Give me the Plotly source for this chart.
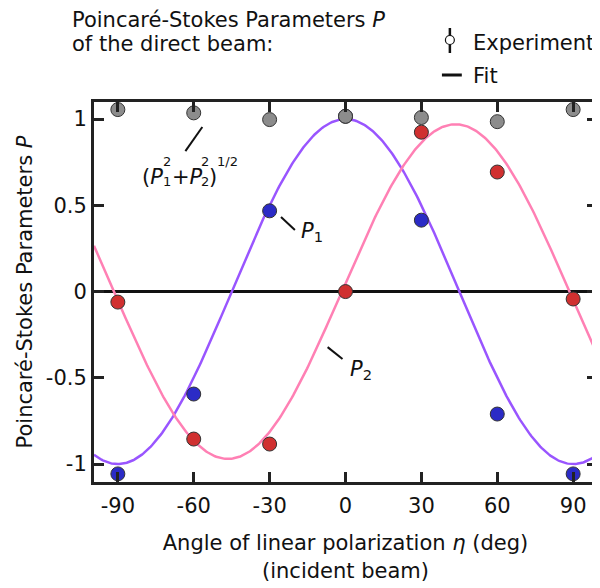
import numpy as np
import plotly.graph_objects as go

# ---- data ----
eta = [-90, -60, -30, 0, 30, 60, 90]
P1 = [-1.057, -0.594, 0.468, 1.016, 0.414, -0.71, -1.057]
P2 = [-0.061, -0.855, -0.884, 0.0, 0.924, 0.693, -0.043]
Pmag = [1.055, 1.036, 0.997, 1.016, 1.009, 0.985, 1.055]

# fit parameters (sinusoidal fits)
fit1_amp, fit1_phase = 1.0, 0.0
fit2_amp, fit2_phase = 0.97, -1.5

xtick_vals = [-90, -60, -30, 0, 30, 60, 90]
xtick_text = ["-90", "-60", "-30", "0", "30", "60", "90"]
ytick_vals = [-1, -0.5, 0, 0.5, 1]
ytick_text = ["-1", "-0.5", "0", "0.5", "1"]

XR = [-99.43, 99.43]
YR = [-1.104, 1.099]

eta_fit = np.linspace(XR[0], XR[1], 400)
fit1 = fit1_amp * np.cos(np.radians(2 * (eta_fit - fit1_phase)))
fit2 = fit2_amp * np.sin(np.radians(2 * (eta_fit - fit2_phase)))

FONT = "DejaVu Sans"
FS = 21
SFS = 13
OUT = "#333333"
TXT = "#111111"

fig = go.Figure()
fig.add_trace(go.Scatter(x=eta_fit, y=fit1, mode="lines",
                         line=dict(color="#9955ff", width=2.5), showlegend=False))
fig.add_trace(go.Scatter(x=eta_fit, y=fit2, mode="lines",
                         line=dict(color="#ff80b4", width=2.5), showlegend=False))
fig.add_trace(go.Scatter(x=eta, y=P1, mode="markers",
                         marker=dict(size=14, color="#2b2bc6", line=dict(color=OUT, width=1)),
                         showlegend=False))
fig.add_trace(go.Scatter(x=eta, y=P2, mode="markers",
                         marker=dict(size=14, color="#d03030", line=dict(color=OUT, width=1)),
                         showlegend=False))
fig.add_trace(go.Scatter(x=eta, y=Pmag, mode="markers",
                         marker=dict(size=14, color="#8c8c8c", line=dict(color=OUT, width=1)),
                         showlegend=False))

axis_common = dict(showgrid=False, showline=True, linecolor="#222222", linewidth=3,
                   mirror="ticks", ticks="inside", ticklen=10, tickwidth=2.5,
                   tickcolor="#222222", tickfont=dict(family=FONT, size=FS, color=TXT))

fig.update_xaxes(range=XR, tickvals=xtick_vals, ticktext=xtick_text, zeroline=False,
                 ticklabelstandoff=3,
                 title=dict(text="Angle of linear polarization <i>η</i> (deg)<br>(incident beam)",
                            font=dict(family=FONT, size=FS, color=TXT), standoff=19),
                 **axis_common)
fig.update_yaxes(range=YR, tickvals=ytick_vals, ticktext=ytick_text,
                 zeroline=True, zerolinecolor="#111111", zerolinewidth=2.5,
                 ticklabelstandoff=0,
                 title=dict(text="Poincaré-Stokes Parameters <i>P</i>",
                            font=dict(family=FONT, size=FS, color=TXT), standoff=8),
                 **axis_common)

W, H = 600, 588
OFF = 8   # page offset of the figure in the window
L, R = 94 - OFF, 8
T, B = 102 - OFF, H - (482 - OFF)
pw, ph = W - L - R, H - T - B


def px(xs):
    return (xs - OFF - L) / pw


def py(ys):
    return (H - B - (ys - OFF)) / ph


shapes = []
# legend: experiment symbol (open circle with bar)
shapes.append(dict(type="circle", xref="paper", yref="paper",
                   x0=px(447.5), x1=px(456.5), y0=py(44.5), y1=py(35.5),
                   line=dict(color=TXT, width=1.2), fillcolor="white"))
shapes.append(dict(type="line", xref="paper", yref="paper", x0=px(452), x1=px(452),
                   y0=py(28), y1=py(35.5), line=dict(color=TXT, width=2.5)))
shapes.append(dict(type="line", xref="paper", yref="paper", x0=px(452), x1=px(452),
                   y0=py(44.5), y1=py(53), line=dict(color=TXT, width=2.5)))
shapes.append(dict(type="line", xref="paper", yref="paper", x0=px(444), x1=px(464),
                   y0=py(75), y1=py(75), line=dict(color=TXT, width=3)))
# leader lines
for (xa, ya, xb, yb) in [(-56.6, 0.954, -63.3, 0.814),
                         (-25.5, 0.432, -20.0, 0.357),
                         (-7.07, -0.322, -1.18, -0.391)]:
    shapes.append(dict(type="line", xref="x", yref="y", x0=xa, y0=ya, x1=xb, y1=yb,
                       line=dict(color=TXT, width=2)))

ann = []
tf = dict(family=FONT, size=FS, color=TXT)
sf = dict(family=FONT, size=SFS, color=TXT)


def txt(xs, ys, text, font=tf, pad=1):
    ann.append(dict(xref="paper", yref="paper", x=px(xs), y=py(ys), xanchor="left",
                    yanchor="middle", text=text, showarrow=False, font=font, borderpad=pad))


txt(71, 20.5, "Poincaré-Stokes Parameters <i>P</i>", pad=0)
txt(71, 44.5, "of the direct beam:", pad=0)
txt(473, 43, "Experiment")
txt(473, 76, "Fit")

# (P1^2 + P2^2)^(1/2) with stacked sub/superscripts
txt(141, 177, "(<i>P</i>", pad=0)
txt(162.5, 161, "2", sf, pad=0)
txt(162.5, 181, "1", sf, pad=0)
txt(171, 177, "+<i>P</i>", pad=0)
txt(200.5, 161, "2", sf, pad=0)
txt(200.5, 181, "2", sf, pad=0)
txt(209, 177, ")", pad=0)
txt(217, 161, "1/2", sf, pad=0)

ann.append(dict(xref="x", yref="y", x=-18.5, y=0.345, xanchor="left", yanchor="middle",
                text="<i>P</i><sub>1</sub>", showarrow=False, font=tf))
ann.append(dict(xref="x", yref="y", x=1.18, y=-0.455, xanchor="left", yanchor="middle",
                text="<i>P</i><sub>2</sub>", showarrow=False, font=tf))

fig.update_layout(width=W, height=H, margin=dict(l=L, r=R, t=T, b=B),
                  paper_bgcolor="white", plot_bgcolor="white",
                  font=dict(family=FONT, size=FS, color=TXT),
                  shapes=shapes, annotations=ann, showlegend=False)

fig.write_html("out.html")
